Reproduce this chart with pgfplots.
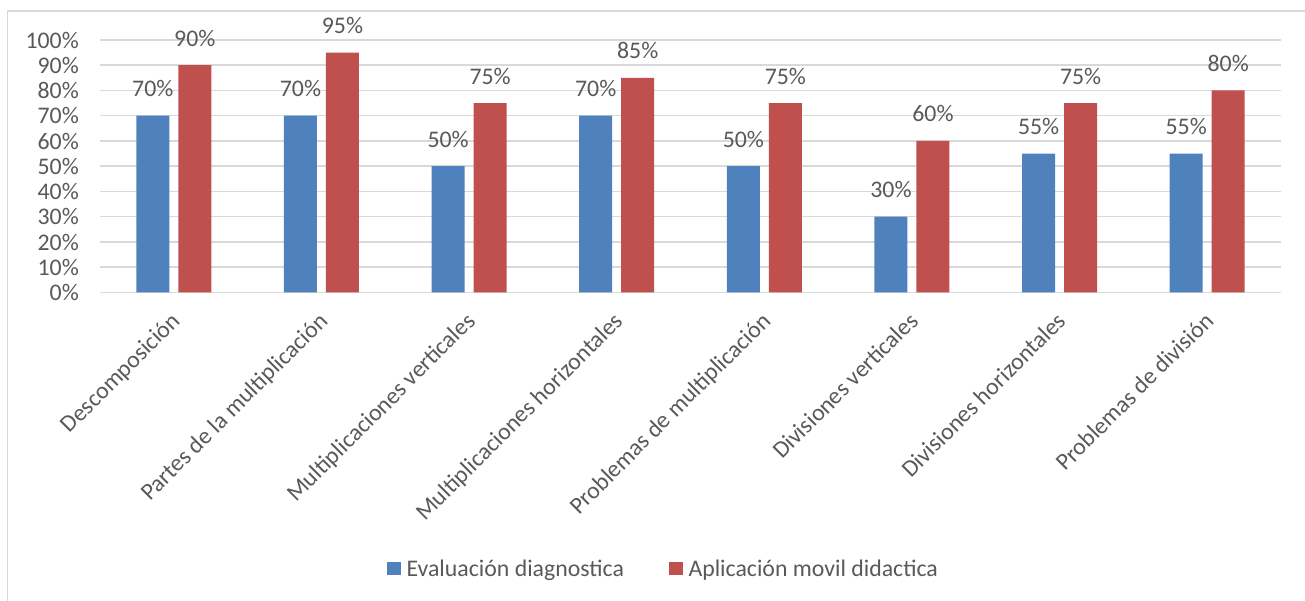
\documentclass[border=0pt]{standalone}
\usepackage{pgfplots}
\pgfplotsset{compat=1.18}
\usepackage{fontspec}
\setmainfont{Carlito}
\definecolor{cblue}{HTML}{4F81BD}
\definecolor{cred}{HTML}{C0504D}
\definecolor{cgrid}{HTML}{D9D9D9}
\definecolor{ctext}{HTML}{595959}
\newcommand{\cfont}{\fontsize{23.8bp}{28bp}\selectfont}
\begin{document}
\begin{tikzpicture}[x=1bp,y=1bp]
\path[use as bounding box] (0,0) rectangle (1305,601);
\draw[cgrid, line width=1.5bp] (7.5,-5) -- (7.5,590) -- (1310,590);
\begin{axis}[
  at={(100bp,308.5bp)}, anchor=south west,
  scale only axis, width=1181bp, height=252.5bp,
  /pgf/number format/assume math mode=true,
  ymin=0, ymax=100, ytick={0,10,...,100},
  yticklabels={0\%,10\%,20\%,30\%,40\%,50\%,60\%,70\%,80\%,90\%,100\%},
  xmin=-0.5, xmax=7.5, xtick={0,...,7},
  xticklabels={Descomposición,Partes de la multiplicación,Multiplicaciones verticales,Multiplicaciones horizontales,Problemas de multiplicación,Divisiones verticales,Divisiones horizontales,Problemas de división},
  ybar=9bp, bar width=33bp,
  axis line style={draw=none},
  major tick length=0pt,
  ymajorgrids, grid style={cgrid, line width=1.5bp},
  tick label style={font=\cfont, text=ctext},
  yticklabel style={anchor=east, inner sep=0pt, xshift=-21bp},
  xticklabel style={xshift=-4bp, yshift=-18bp, rotate=45, anchor=north east, inner sep=0pt},
  nodes near coords={\pgfmathprintnumber{\pgfplotspointmeta}\%},
  every node near coord/.append style={font=\cfont, text=ctext, anchor=base, inner sep=0pt, yshift=19bp},
  legend columns=2,
  legend style={at={(0.4763,-1.095)}, anchor=center, draw=none, fill=none, font=\cfont, text=ctext,
    nodes={inner sep=0pt},
    /tikz/every odd column/.append style={column sep=6bp},
    /tikz/every even column/.append style={column sep=45bp}},
  legend cell align=left,
  legend image code/.code={\fill[#1] (0bp,-6.5bp) rectangle (13.5bp,7bp);},
]
\addplot[fill=cblue, draw=none] coordinates {(0,70) (1,70) (2,50) (3,70) (4,50) (5,30) (6,55) (7,55)};
\addplot[fill=cred, draw=none] coordinates {(0,90) (1,95) (2,75) (3,85) (4,75) (5,60) (6,75) (7,80)};
\legend{Evaluación diagnostica, Aplicación movil didactica}
\end{axis}
\end{tikzpicture}
\end{document}
